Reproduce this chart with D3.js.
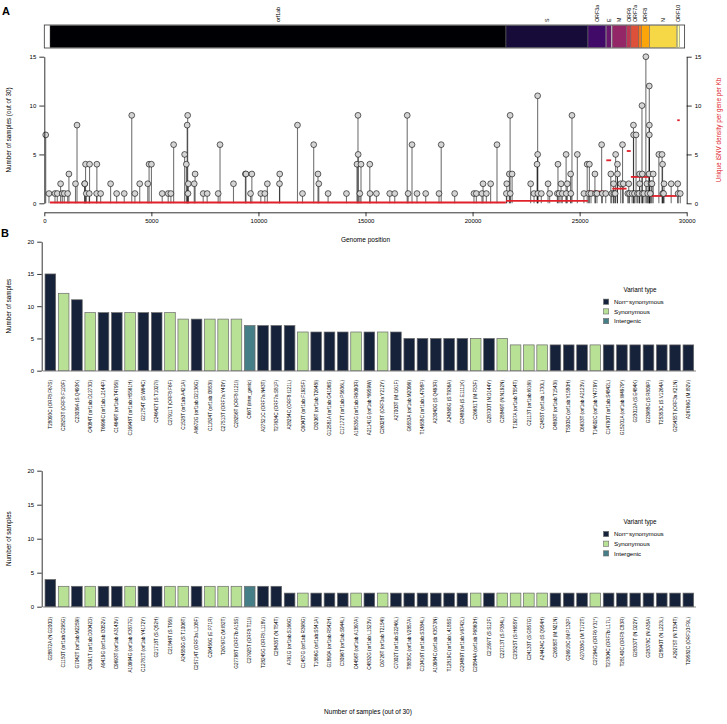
<!DOCTYPE html>
<html><head><meta charset="utf-8">
<script src="https://cdn.jsdelivr.net/npm/d3@7"></script>
<style>body{margin:0;background:#fff} svg text{font-family:"Liberation Sans",Arial,Helvetica,sans-serif;fill:#000}</style>
</head><body><svg id="c" width="727" height="724"></svg>
<script>
// ---------- DATA ----------
const geneNames  = ["orf1ab","S","ORF3a","E","M","ORF6","ORF7a","ORF7b","ORF8","N","ORF10"];
const geneStarts = [266,21563,25393,26245,26523,27202,27394,27756,27894,28274,29558];
const geneEnds   = [21555,25384,26220,26472,27191,27387,27759,27887,28259,29533,29674];
const geneDensity = [0.08,0.25,1.2,4.4,1.5,5.35,2.7,2.7,2.7,0.75,8.5];
const geneLabelShown = [1,1,1,1,1,1,1,0,1,1,1];
const genomeLength = 29903;
const genomeTicks = [0,5000,10000,15000,20000,25000,30000];
const sampleTicks = [0,5,10,15];
const barTicks = [0,5,10,15,20];

const lolliPos = [66,219,499,607,761,840,933,1092,1150,1457,1528,1886,1890,1927,1960,2100,2113,2445,2455,2632,
 3096,3378,3733,4084,4232,4456,4832,4893,5003,5506,5786,5912,6040,6553,6633,6672,6696,6710,6726,7002,7042,
 7420,7606,8120,8206,8835,9391,9419,9631,9693,10112,10299,10416,10984,10994,11824,12058,12581,12781,12819,
 13253,14111,14602,14649,14658,14736,14790,15201,15210,15510,16132,16366,16948,16990,17172,17405,17812,18433,
 18535,19165,20066,20176,20440,20489,20643,20844,21141,21580,21597,21718,21754,21760,21846,22713,22870,23012,
 23039,23040,23050,23210,23525,23600,23960,23988,24040,24133,24190,24368,24375,24424,24580,24590,24642,24893,
 25200,25353,25420,25455,25530,25714,25740,25810,26028,26060,26220,26456,26500,26585,26600,26660,26681,26766,
 26767,26918,27003,27038,27250,27294,27330,27450,27513,27521,27560,27634,27700,27770,27798,27804,27911,27925,
 27930,28000,28093,28140,28180,28245,28253,28254,28256,28300,28337,28378,28435,28700,28849,28872,28880,28920,
 28940,29275,29582,29600,29700];
const lolliCount = [7,1,1,1,2,1,1,1,3,2,8,2,2,4,1,1,4,1,4,1,
 2,1,1,9,1,2,2,4,4,1,1,1,6,5,4,8,9,1,2,2,3,
 1,1,1,6,2,3,3,1,3,1,1,2,2,3,8,1,6,3,2,
 1,1,4,9,5,1,4,4,1,1,1,1,9,1,6,1,1,1,
 6,1,1,1,1,2,1,2,6,1,2,3,9,1,3,2,1,4,
 11,5,1,1,2,1,1,4,1,2,1,5,1,2,3,1,9,5,
 1,4,1,4,1,3,1,1,6,1,1,3,1,2,1,1,5,4,
 3,2,6,2,1,2,1,1,8,7,1,7,1,1,3,2,10,3,
 1,1,15,2,1,3,12,7,8,1,2,2,3,5,5,4,1,1,
 2,2,2,1,1];

const bar1Labels = ["T28093C (ORF8:F67S)","C28253T (ORF8:F120F)","C23039A (S:Q493K)","C4084T (orf1ab:D1273D)",
 "T6696C (orf1ab:L2144P)","C14649T (orf1ab:T4795I)","C16948T (orf1ab:H5561H)","G21754T (S:W64C)","C24642T (S:T1027I)",
 "C27911T (ORF8:F6F)","C1528T (orf1ab:A421A)","A6672G (orf1ab:D2136G)","C11824T (orf1ab:I3853I)","C27513T (ORF7a:Y40Y)",
 "C28256T (ORF8:I121I)","C66T (inter_genic)","A27521C (ORF7a:N43T)","T27634C (ORF7a:S81P)","A28254C (ORF8:I121L)",
 "C6040T (orf1ab:F1925F)","C8206T (orf1ab:T2648I)","G12581A (orf1ab:G4106S)","C17172T (orf1ab:P5636L)",
 "A18535G (orf1ab:R6090R)","A21141G (orf1ab:*6959W)","C26028T (ORF3a:Y212Y)","A27003T (M:I161F)",
 "G6553A (orf1ab:M2096I)","T14658C (orf1ab:L4798P)","A23040G (S:Q493R)","A24368G (S:T936A)","G24893A (S:E1111K)",
 "C26681T (M:F53F)","G28700T (N:D144Y)","C28849T (N:N192N)","T1927A (orf1ab:T554T)","C2113T (orf1ab:I616I)",
 "C2455T (orf1ab:L730L)","C4893T (orf1ab:T1543I)","T5003C (orf1ab:Y1580H)","C6633T (orf1ab:A2123V)",
 "T14602C (orf1ab:Y4779Y)","C14790T (orf1ab:S4842L)","G15201A (orf1ab:W4979*)","G23012A (S:E484K)",
 "G23988C (S:R809P)","T25353C (S:V1264A)","G25455T (ORF3a:K21N)","A26766G (M:I82V)"];
const bar1Counts = [15,12,11,9,9,9,9,9,9,9,8,8,8,8,8,7,7,7,7,6,6,6,6,6,6,6,6,5,5,5,5,5,5,5,5,4,4,4,4,4,4,4,4,4,4,4,4,4,4];
const bar1Types = ["N","S","N","S","N","N","S","N","N","S","S","N","S","S","S","I","N","N","N","S","N","N","N","S","N","S","N",
 "N","N","N","N","N","S","N","S","S","S","S","N","N","N","S","N","N","N","N","N","N","N"];

const bar2Labels = ["G28872A (N:G200D)","C1150T (orf1ab:G295G)","G7042T (orf1ab:M2259I)","C9391T (orf1ab:D3042D)",
 "A9419G (orf1ab:I3052V)","C9693T (orf1ab:A3143V)","A10994G (orf1ab:K3577E)","C12781T (orf1ab:Y4172Y)",
 "G21718T (S:Q52H)","C21846T (S:T95I)","A24580G (S:T1006T)","C25714T (ORF3a:L108F)","C26456G (E:P71R)",
 "T26767C (M:I82T)","G27798T (ORF7b:A15S)","C27925T (ORF8:T11I)","T28245G (ORF8:L118V)","C28435T (N:T54T)",
 "A761G (orf1ab:S166G)","C1457G (orf1ab:R398G)","T1886G (orf1ab:S541A)","G1890A (orf1ab:R542H)",
 "C3096T (orf1ab:S944L)","C4456T (orf1ab:A1397A)","C4832G (orf1ab:L1523V)","C6726T (orf1ab:T2154I)",
 "C7002T (orf1ab:S2246L)","T8835C (orf1ab:V2857A)","C10416T (orf1ab:S3384L)","A10984C (orf1ab:K3573N)",
 "T12819C (orf1ab:L4185S)","G20489T (orf1ab:V6742L)","C20844A (orf1ab:P6860H)","C21597T (S:S12F)",
 "C22713T (S:P384L)","C23525T (S:H655Y)","C24133T (S:G857G)","A24424C (S:Q954H)","C26585T (M:N21N)",
 "G26918C (M:P132P)","A27038G (M:T172T)","C27294G (ORF6:Y31*)","T27804C (ORF7b:L17L)","T28140C (ORF8:C83R)",
 "G28337T (N:D22Y)","G28378C (N:A35A)","C28940T (N:L223L)","A29275T (N:T334T)","T29582C (ORF10:F9L)"];
const bar2Counts = [4,3,3,3,3,3,3,3,3,3,3,3,3,3,3,3,3,3,2,2,2,2,2,2,2,2,2,2,2,2,2,2,2,2,2,2,2,2,2,2,2,2,2,2,2,2,2,2,2];
const bar2Types = ["N","S","N","S","N","N","S","N","N","S","S","N","S","S","S","I","N","N",
 "N","S","N","N","N","S","N","S","N","N","N","N","N","N","S","N","S","S","S","S","N","N","N","S","N","N","N","N","N","N","N"];

const typeKeys = ["N","S","I"];
const typeNames = ["Non\u2212synonymous","Synonymous","Intergenic"];
const typeColors = ["#16223a","#b9e195","#457e86"];

// ---------- DRAW ----------
const svg = d3.select("#c");
const color = d3.scaleOrdinal().domain(typeKeys).range(typeColors);

function styleAxis(g, fs){
  g.selectAll("path.domain").attr("stroke","#000").attr("stroke-width",0.8);
  g.selectAll(".tick line").attr("stroke","#000").attr("stroke-width",0.8);
  g.selectAll(".tick text").attr("font-size",fs).attr("fill","#000").attr("font-family","Liberation Sans, Arial, sans-serif");
}

// Panel letters
svg.append("text").attr("x",2).attr("y",15).attr("font-size",11).attr("font-weight","bold").text("A");
svg.append("text").attr("x",1).attr("y",237).attr("font-size",11).attr("font-weight","bold").text("B");

// Panel A scales
const xA = d3.scaleLinear().domain([0,30000]).range([44.3,686.7]);
const yA = d3.scaleLinear().domain([0,15]).range([203.3,56.7]);

// genome bar
const gb = svg.append("g");
gb.append("rect").attr("x",xA(0)).attr("y",25).attr("width",xA(genomeLength)-xA(0)).attr("height",23)
  .attr("fill","#fff").attr("stroke","#333").attr("stroke-width",0.8);
geneNames.forEach((g,i)=>{
  gb.append("rect").attr("x",xA(geneStarts[i])).attr("y",25.5).attr("width",xA(geneEnds[i])-xA(geneStarts[i])).attr("height",22)
    .attr("fill",d3.interpolateInferno(i/(geneNames.length-1))).attr("stroke","#555").attr("stroke-width",0.4);
  if(geneLabelShown[i]){
    const cx = xA((geneStarts[i]+geneEnds[i])/2);
    gb.append("text").attr("transform",`translate(${cx},22) rotate(-90)`).attr("dy","0.35em")
      .attr("font-size",5.3).attr("text-anchor","start").text(g);
  }
});

// lollipops
const lolli = lolliPos.map((p,i)=>({p, c: lolliCount[i]}));
const gl = svg.append("g");
gl.selectAll("line.stem").data(lolli).join("line").attr("class","stem")
  .attr("x1",d=>xA(d.p)).attr("x2",d=>xA(d.p)).attr("y1",yA(0)).attr("y2",d=>yA(d.c))
  .attr("stroke","#000").attr("stroke-opacity",0.55).attr("stroke-width",1.1);
// density segments
geneNames.forEach((g,i)=>{
  gl.append("line").attr("x1",xA(geneStarts[i])).attr("x2",xA(geneEnds[i]))
    .attr("y1",yA(geneDensity[i])).attr("y2",yA(geneDensity[i]))
    .attr("stroke","#e0202a").attr("stroke-width",1.8);
});
gl.selectAll("circle").data(lolli).join("circle")
  .attr("cx",d=>xA(d.p)).attr("cy",d=>yA(d.c)).attr("r",2.9)
  .attr("fill","#d4d4d4").attr("stroke","#000").attr("stroke-width",0.6);

// axes A
const axL = svg.append("g").attr("transform",`translate(${xA(0)},0)`)
  .call(d3.axisLeft(yA).tickValues(sampleTicks).tickSize(5).tickSizeOuter(0).tickPadding(3));
styleAxis(axL,6);
const axR = svg.append("g").attr("transform",`translate(${xA(30000)},0)`)
  .call(d3.axisRight(yA).tickValues(sampleTicks).tickSize(5).tickSizeOuter(0).tickPadding(3));
styleAxis(axR,6);
const axB = svg.append("g").attr("transform",`translate(0,212.3)`)
  .call(d3.axisBottom(xA).tickValues(genomeTicks).tickFormat(d3.format("d")).tickSize(4).tickSizeOuter(0).tickPadding(2));
styleAxis(axB,6);

svg.append("text").attr("transform",`translate(11,${(yA(0)+yA(15))/2}) rotate(-90)`).attr("text-anchor","middle")
  .attr("font-size",6.3).text("Number of samples (out of 30)");
svg.append("text").attr("x",(xA(0)+xA(30000))/2).attr("y",241.5).attr("text-anchor","middle")
  .attr("font-size",6.5).text("Genome position");
svg.append("text").attr("transform",`translate(721,${(yA(0)+yA(15))/2}) rotate(-90)`).attr("text-anchor","middle")
  .attr("font-size",6.3).style("fill","#e0202a").text("Unique iSNV density per gene per Kb");

// Panel B bar charts
function barChart(labels, counts, types, y0, y20, labelTop, legendTop, ylabel){
  const x = d3.scaleBand().domain(d3.range(labels.length)).range([43.7,695]).paddingInner(0.2).paddingOuter(0.1);
  const y = d3.scaleLinear().domain([0,20]).range([y0,y20]);
  const g = svg.append("g");
  g.append("line").attr("x1",43).attr("x2",696).attr("y1",y0+0.3).attr("y2",y0+0.3).attr("stroke","#8a8a8a").attr("stroke-width",1);
  g.selectAll("rect").data(counts).join("rect")
    .attr("x",(d,i)=>x(i)).attr("width",x.bandwidth())
    .attr("y",d=>y(d)).attr("height",d=>y0-y(d))
    .attr("fill",(d,i)=>color(types[i])).attr("stroke","#6a6a6a").attr("stroke-width",0.7);
  const ax = svg.append("g").attr("transform","translate(41.7,0)")
    .call(d3.axisLeft(y).tickValues(barTicks).tickSize(4.5).tickSizeOuter(0).tickPadding(3));
  styleAxis(ax,6);
  g.selectAll("text.lab").data(labels).join("text").attr("class","lab")
    .attr("transform",(d,i)=>`translate(${x(i)+x.bandwidth()/2},${labelTop}) rotate(-90)`)
    .attr("text-anchor","end").attr("dy","0.35em").attr("font-size",4.7).text(d=>d);
  svg.append("text").attr("transform",`translate(11,${(y0+y20)/2}) rotate(-90)`).attr("text-anchor","middle")
    .attr("font-size",6.3).text(ylabel);
  // legend
  const lg = svg.append("g");
  lg.append("text").attr("x",640).attr("y",legendTop).attr("dy","0.35em").attr("text-anchor","middle").attr("font-size",6.3).text("Variant type");
  typeKeys.forEach((k,i)=>{
    const yy = legendTop+12.2+i*9.7;
    lg.append("rect").attr("x",603.5).attr("y",yy-2.6).attr("width",5.2).attr("height",5.2)
      .attr("fill",typeColors[i]).attr("stroke","#6a6a6a").attr("stroke-width",0.6);
    lg.append("text").attr("x",614).attr("y",yy).attr("dy","0.35em").attr("font-size",6.2).text(typeNames[i]);
  });
}
barChart(bar1Labels, bar1Counts, bar1Types, 370.7, 241.7, 380, 289.5, "Number of samples");
barChart(bar2Labels, bar2Counts, bar2Types, 606.7, 470.7, 617, 521.8, "Number of samples");
svg.append("text").attr("x",368).attr("y",714).attr("text-anchor","middle").attr("font-size",6.5).text("Number of samples (out of 30)");
</script></body></html>
